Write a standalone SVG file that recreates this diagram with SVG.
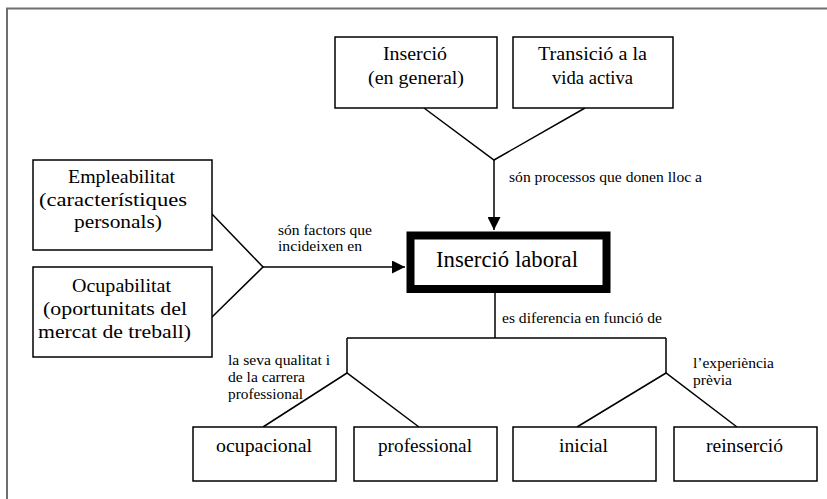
<svg xmlns="http://www.w3.org/2000/svg" width="827" height="499" viewBox="0 0 827 499">
<style>
.box{fill:#fff;stroke:#000;stroke-width:1.5}
.t{font-family:'Liberation Serif','Times New Roman',Tinos,'DejaVu Serif',serif;fill:#000;text-anchor:middle;font-size:18px}
.s{font-family:'Liberation Serif','Times New Roman',Tinos,'DejaVu Serif',serif;fill:#000;font-size:14px}
.ln{fill:none;stroke:#000;stroke-width:1.5}
</style>
<defs>
<marker id="ah" viewBox="0 0 10 10" refX="10" refY="5" markerWidth="13" markerHeight="13" markerUnits="userSpaceOnUse" orient="auto"><path d="M0,0 L10,5 L0,10 Z" fill="#000"/></marker>
</defs>
<rect width="827" height="499" fill="#fff"/>
<path d="M7,510 V8.5 H840" fill="none" stroke="#6e6e6e" stroke-width="2"/>
<g id="connectors">
<path class="ln" d="M424,108 L494,160 L585,108"/>
<path class="ln" d="M494,160 V230" marker-end="url(#ah)"/>
<path class="ln" d="M211,213 L263,267 L211,318"/>
<path class="ln" d="M263,267 H405" marker-end="url(#ah)"/>
<path class="ln" d="M495,293 V338 M347,338 H666 M347,338 V373 M666,338 V373"/>
<path class="ln" d="M263,427 L347,373 L419,427"/>
<path class="ln" d="M577,427 L666,373 L737,427"/>
<text class="s" x="509" y="182" textLength="193" lengthAdjust="spacingAndGlyphs">són processos que donen lloc a</text>
<text class="s" x="278" y="235" textLength="94" lengthAdjust="spacingAndGlyphs">són factors que</text>
<text class="s" x="278" y="251" textLength="84" lengthAdjust="spacingAndGlyphs">incideixen en</text>
<text class="s" x="502" y="323" textLength="160" lengthAdjust="spacingAndGlyphs">es diferencia en funció de</text>
<text class="s" x="228" y="365" textLength="102" lengthAdjust="spacingAndGlyphs">la seva qualitat i</text>
<text class="s" x="228" y="382" textLength="77" lengthAdjust="spacingAndGlyphs">de la carrera</text>
<text class="s" x="228" y="399" textLength="75" lengthAdjust="spacingAndGlyphs">professional</text>
<text class="s" x="693" y="368" textLength="81" lengthAdjust="spacingAndGlyphs">l’experiència</text>
<text class="s" x="693" y="385" textLength="39" lengthAdjust="spacingAndGlyphs">prèvia</text>
</g>
<g id="n-insercio">
<rect class="box" x="335" y="37" width="162" height="71"/>
<text class="t" x="415" y="60" textLength="64" lengthAdjust="spacingAndGlyphs">Inserció</text>
<text class="t" x="416" y="84" textLength="96" lengthAdjust="spacingAndGlyphs">(en general)</text>
</g>
<g id="n-transicio">
<rect class="box" x="513" y="37" width="160" height="71"/>
<text class="t" x="592.5" y="60" textLength="109" lengthAdjust="spacingAndGlyphs">Transició a la</text>
<text class="t" x="592.5" y="84" textLength="81" lengthAdjust="spacingAndGlyphs">vida activa</text>
</g>
<g id="n-empleabilitat">
<rect class="box" x="33" y="160" width="179" height="90"/>
<text class="t" x="121.5" y="183" textLength="107" lengthAdjust="spacingAndGlyphs">Empleabilitat</text>
<text class="t" x="113" y="206" textLength="148" lengthAdjust="spacingAndGlyphs">(característiques</text>
<text class="t" x="118" y="228" textLength="88" lengthAdjust="spacingAndGlyphs">personals)</text>
</g>
<g id="n-ocupabilitat">
<rect class="box" x="33" y="267" width="179" height="90"/>
<text class="t" x="121.5" y="292" textLength="99" lengthAdjust="spacingAndGlyphs">Ocupabilitat</text>
<text class="t" x="115" y="315" textLength="144" lengthAdjust="spacingAndGlyphs">(oportunitats del</text>
<text class="t" x="114.5" y="338" textLength="153" lengthAdjust="spacingAndGlyphs">mercat de treball)</text>
</g>
<g id="n-laboral">
<rect x="410.5" y="235.5" width="196" height="53.5" fill="#fff" stroke="#000" stroke-width="8"/>
<text class="t" x="507" y="267" style="font-size:23px" textLength="142" lengthAdjust="spacingAndGlyphs">Inserció laboral</text>
</g>
<g id="n-ocupacional">
<rect class="box" x="193" y="427" width="143" height="54"/>
<text class="t" x="264" y="452" textLength="96" lengthAdjust="spacingAndGlyphs">ocupacional</text>
</g>
<g id="n-professional">
<rect class="box" x="354" y="427" width="143" height="54"/>
<text class="t" x="425" y="452" textLength="94" lengthAdjust="spacingAndGlyphs">professional</text>
</g>
<g id="n-inicial">
<rect class="box" x="513" y="427" width="143" height="54"/>
<text class="t" x="583.5" y="452" textLength="49" lengthAdjust="spacingAndGlyphs">inicial</text>
</g>
<g id="n-reinsercio">
<rect class="box" x="674" y="427" width="143" height="54"/>
<text class="t" x="744.5" y="452" textLength="77" lengthAdjust="spacingAndGlyphs">reinserció</text>
</g>
</svg>
